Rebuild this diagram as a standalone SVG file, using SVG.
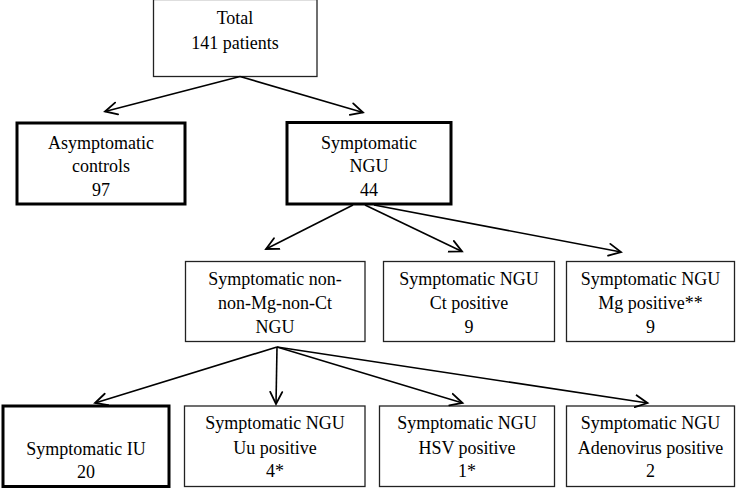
<svg xmlns="http://www.w3.org/2000/svg" width="740" height="490" viewBox="0 0 740 490">
<style>
.box{fill:#fff;stroke:#222;stroke-width:1.3}
.thick{fill:#fff;stroke:#000;stroke-width:3}
text{font-family:"Liberation Serif","Times New Roman",serif;font-size:18px;fill:#000;text-anchor:middle}
.conn line{stroke:#000;stroke-width:1.6;marker-end:url(#arr)}
</style>
<defs>
<marker id="arr" markerUnits="userSpaceOnUse" markerWidth="16" markerHeight="16" refX="13" refY="7" orient="auto" viewBox="0 0 16 14">
<path d="M1,1 L13,7 L1,13" fill="none" stroke="#000" stroke-width="1.8" stroke-linecap="round" stroke-linejoin="miter"/>
</marker>
</defs>
<rect width="740" height="490" fill="#fff"/>
<g id="total"><rect class="box" x="153.5" y="-0.5" width="163.5" height="77"/><text x="235" y="24">Total</text><text x="235" y="49">141 patients</text></g>
<g id="asym"><rect class="thick" x="17" y="123" width="168" height="81"/><text x="101" y="149">Asymptomatic</text><text x="101" y="172">controls</text><text x="101" y="196">97</text></g>
<g id="ngu"><rect class="thick" x="287" y="122.5" width="164" height="81.5"/><text x="369" y="149">Symptomatic</text><text x="369" y="172">NGU</text><text x="369" y="196">44</text></g>
<g id="nonmgct"><rect class="box" x="185.5" y="261.5" width="179.5" height="80"/><text x="275" y="285">Symptomatic non-</text><text x="275" y="308.5">non-Mg-non-Ct</text><text x="275" y="333">NGU</text></g>
<g id="ct"><rect class="box" x="383.5" y="261.5" width="171" height="80"/><text x="469" y="285">Symptomatic NGU</text><text x="469" y="308.5">Ct positive</text><text x="469" y="333">9</text></g>
<g id="mg"><rect class="box" x="566.5" y="261.5" width="168" height="80"/><text x="650.5" y="285">Symptomatic NGU</text><text x="650.5" y="308.5">Mg positive**</text><text x="650.5" y="333">9</text></g>
<g id="iu"><rect class="thick" x="3" y="406" width="166" height="80.5"/><text x="86" y="455">Symptomatic IU</text><text x="86" y="477.5">20</text></g>
<g id="uu"><rect class="box" x="184.5" y="406" width="180.5" height="80.5"/><text x="275" y="428.5">Symptomatic NGU</text><text x="275" y="454">Uu positive</text><text x="275" y="476.5">4*</text></g>
<g id="hsv"><rect class="box" x="379.5" y="406" width="175" height="80.5"/><text x="467" y="428.5">Symptomatic NGU</text><text x="467" y="454">HSV positive</text><text x="467" y="476.5">1*</text></g>
<g id="adeno"><rect class="box" x="566.5" y="406" width="168" height="80.5"/><text x="650.5" y="428.5">Symptomatic NGU</text><text x="650.5" y="454">Adenovirus positive</text><text x="650.5" y="476.5">2</text></g>
<g id="connectors" class="conn">
<line x1="240" y1="76.5" x2="105" y2="111.5"/>
<line x1="240" y1="76.5" x2="363" y2="112.5"/>
<line x1="353" y1="205" x2="266" y2="249"/>
<line x1="365" y1="205" x2="462" y2="251.5"/>
<line x1="374" y1="205" x2="621" y2="252"/>
<line x1="277" y1="347" x2="95" y2="403"/>
<line x1="277" y1="347" x2="276" y2="404"/>
<line x1="277" y1="347" x2="462.5" y2="403"/>
<line x1="277" y1="347" x2="647.5" y2="403"/>
</g>
</svg>
